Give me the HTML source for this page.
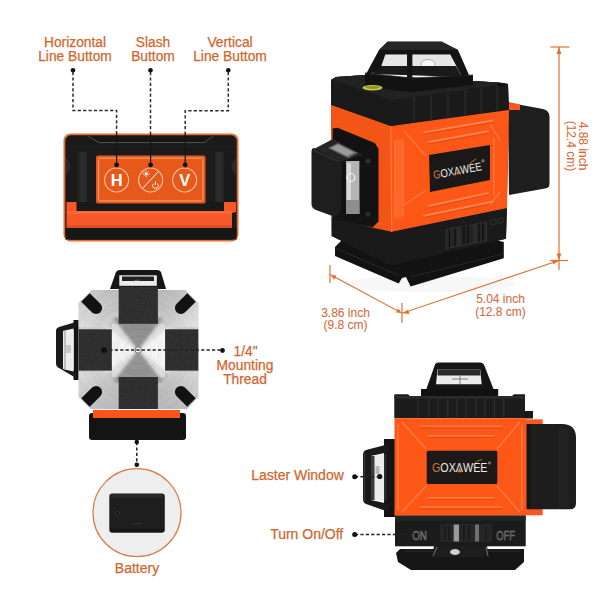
<!DOCTYPE html>
<html><head><meta charset="utf-8">
<style>
html,body{margin:0;padding:0;background:#fff;}
body{width:600px;height:600px;overflow:hidden;position:relative;}
svg{position:absolute;left:0;top:0;}
.lbl{font-family:"Liberation Sans",sans-serif;fill:#d0672f;stroke:#d0672f;stroke-width:0.25px;font-size:13.8px;}
.dim{font-family:"Liberation Sans",sans-serif;fill:#d26e3e;stroke:#d26e3e;stroke-width:0.1px;font-size:12px;}
</style></head>
<body>
<svg width="600" height="600" viewBox="0 0 600 600">
<defs>
  <linearGradient id="blk" x1="0" y1="0" x2="0" y2="1">
    <stop offset="0" stop-color="#2a2a2a"/><stop offset="1" stop-color="#111"/>
  </linearGradient>
  <linearGradient id="metal" x1="0" y1="0" x2="1" y2="1">
    <stop offset="0" stop-color="#a9a9a9"/><stop offset="0.5" stop-color="#e4e4e4"/><stop offset="1" stop-color="#9a9a9a"/>
  </linearGradient>
  <filter id="soft" x="-20%" y="-20%" width="140%" height="140%"><feGaussianBlur stdDeviation="1.8"/></filter>
  <linearGradient id="mTR" x1="0" y1="0" x2="1" y2="1"><stop offset="0" stop-color="#b6b6b6"/><stop offset="0.5" stop-color="#c8c8c8"/><stop offset="1" stop-color="#e6e6e6"/></linearGradient>
  <linearGradient id="mTL" x1="1" y1="0" x2="0" y2="1"><stop offset="0" stop-color="#bdbdbd"/><stop offset="0.5" stop-color="#cacaca"/><stop offset="1" stop-color="#dedede"/></linearGradient>
  <linearGradient id="mBL" x1="0" y1="0" x2="1" y2="1"><stop offset="0" stop-color="#dcdcdc"/><stop offset="0.5" stop-color="#c4c4c4"/><stop offset="1" stop-color="#b8b8b8"/></linearGradient>
  <linearGradient id="mBR" x1="1" y1="0" x2="0" y2="1"><stop offset="0" stop-color="#d8d8d8"/><stop offset="0.5" stop-color="#c2c2c2"/><stop offset="1" stop-color="#b4b4b4"/></linearGradient>
  <clipPath id="plateClip"><path d="M92 290 L185 290 L198.3 303 L198.3 397 L187 409 L91 409 L78.7 397 L78.7 302.7 Z"/></clipPath>
  <filter id="noise" x="0" y="0" width="100%" height="100%"><feTurbulence type="fractalNoise" baseFrequency="0.9" numOctaves="2" seed="4"/><feColorMatrix values="0 0 0 0 0.25  0 0 0 0 0.25  0 0 0 0 0.25  0 0 0 0.22 0"/><feComposite in2="SourceGraphic" operator="in"/></filter>
  <radialGradient id="circ" cx="0.5" cy="0.5" r="0.5">
    <stop offset="0" stop-color="#f4f4f4"/><stop offset="1" stop-color="#ececec"/>
  </radialGradient>
</defs>

<!-- ===== Top-left: button panel ===== -->
<g id="tl">
  <text class="lbl" x="75" y="47" text-anchor="middle">Horizontal</text>
  <text class="lbl" x="75" y="61" text-anchor="middle">Line Buttom</text>
  <text class="lbl" x="153" y="47" text-anchor="middle">Slash</text>
  <text class="lbl" x="153" y="61" text-anchor="middle">Buttom</text>
  <text class="lbl" x="230" y="47" text-anchor="middle">Vertical</text>
  <text class="lbl" x="230" y="61" text-anchor="middle">Line Buttom</text>

  <rect x="63.5" y="133.5" width="175" height="108" rx="7" fill="#e66a34"/>
  <rect x="65.3" y="135.3" width="171.4" height="104.4" rx="5.5" fill="#1a1a1a"/>
  <!-- bevel top -->
  <path d="M87 136 L99 142.6 L204 142.6 L214 136 Z" fill="#161616"/>
  <path d="M88.5 136.3 L99 142.6 L204 142.6 L213 136.3" stroke="#5a5a5a" stroke-width="0.9" fill="none"/>
  <path d="M66 147 L236 147" stroke="#222" stroke-width="1"/>
  <!-- side notches -->
  <path d="M66 158 Q75 166 66 175 Z" fill="#2a2a2a"/>
  <path d="M236 158 Q227 166 236 175 Z" fill="#2a2a2a"/>
  <!-- inner frame -->
  <rect x="77.6" y="152" width="146.8" height="59" fill="#232323"/>
  <rect x="80" y="152" width="6" height="57" fill="#2b2b2b"/>
  <rect x="216" y="152" width="6" height="57" fill="#2b2b2b"/>
  <rect x="87" y="152" width="128" height="57" fill="#1c1c1c"/>
  <!-- orange lower lip -->
  <path d="M66.5 202 L236 202 L236 212 L232 213 L232 228 L66.5 228 Z" fill="#f6582a"/>
  <rect x="67" y="211" width="165" height="3" fill="#ff6a3c" opacity="0.8"/>
  <rect x="67" y="225" width="165" height="3" fill="#d44a22" opacity="0.7"/>
  <rect x="65.5" y="228" width="171" height="11.5" fill="#171717"/>
  <!-- black frame bottom over lip -->
  <path d="M76.5 202 L224 202 L224 211 L76.5 211 Z" fill="#191919"/>
  <!-- orange button plate -->
  <rect x="96" y="155.5" width="109.5" height="48" rx="2" fill="#e6591b"/>
  <rect x="98.6" y="158.1" width="104.3" height="42.8" rx="1.5" fill="none" stroke="#f0a57a" stroke-width="1"/>
  <circle cx="116.6" cy="180" r="12" fill="none" stroke="#f3c6a0" stroke-width="1.1"/>
  <circle cx="150.6" cy="180" r="12" fill="none" stroke="#f3c6a0" stroke-width="1.1"/>
  <circle cx="184.6" cy="180" r="12" fill="none" stroke="#f3c6a0" stroke-width="1.1"/>
  <text x="116.8" y="186.2" text-anchor="middle" font-family="Liberation Sans" font-weight="bold" font-size="16.5" fill="#fff">H</text>
  <text x="184.8" y="186.2" text-anchor="middle" font-family="Liberation Sans" font-weight="bold" font-size="16.5" fill="#fff">V</text>
  <path d="M143 188 L158 172" stroke="#fff" stroke-width="1"/>
  <g stroke="#fff" stroke-width="0.8">
    <circle cx="146.2" cy="173.8" r="1.6" fill="#fff" stroke="none"/>
    <path d="M146.2 170.3 V171.6 M146.2 176 V177.3 M142.7 173.8 H144 M148.4 173.8 H149.7 M143.8 171.4 L144.6 172.2 M147.8 175.4 L148.6 176.2 M148.6 171.4 L147.8 172.2 M144.6 175.4 L143.8 176.2"/>
  </g>
  <path d="M153.6 183.6 A2.8 2.8 0 1 0 157.4 183.6" stroke="#fff" stroke-width="0.9" fill="none"/>
  <path d="M155.5 181.6 V185" stroke="#fff" stroke-width="0.9"/>
  <g stroke="#151515" stroke-width="1.2">
    <path d="M116.6 134 V165 M150.6 134 V165 M185.2 134 V165"/>
  </g>
  <!-- dashed leaders -->
  <g stroke="#2a2a2a" stroke-width="1.5" fill="none" stroke-dasharray="3.2 2.2">
    <path d="M73 72 L73 110.5 L116.6 110.5 L116.6 134"/>
    <path d="M150.5 72 L150.5 134"/>
    <path d="M228.3 72 L228.3 110.8 L185.2 110.8 L185.2 134"/>
  </g>
  <circle cx="73" cy="70.3" r="2.3" fill="#111"/>
  <circle cx="150.5" cy="70.3" r="2.3" fill="#111"/>
  <circle cx="228.3" cy="70.3" r="2.3" fill="#111"/>
  <circle cx="116.6" cy="165" r="2.4" fill="#111"/>
  <circle cx="150.6" cy="165" r="2.4" fill="#111"/>
  <circle cx="185.2" cy="165" r="2.4" fill="#111"/>
</g>

<!-- ===== Top-right: laser perspective ===== -->
<g id="tr">
  <!-- shadow under base -->
  <ellipse cx="430" cy="284" rx="85" ry="8" fill="#f7f7f7"/>
  <!-- base plate -->
  <path d="M343 239 L335 247 L335 256 L398.7 283.5 L402 278 L406 277 L410.6 286.5 L503.8 258.3 L503.8 242 L460 232 Z" fill="#121212"/>
  <path d="M335 248 L398.7 275.5 M410.6 277 L503 254" stroke="#262626" stroke-width="1.2" fill="none"/>
  <!-- lower black body -->
  <path d="M331.7 212 L391.7 231.7 L391.7 265.5 L331.7 236 Z" fill="#1f1f1f"/>
  <path d="M391.7 231.7 L507 208 L506 238.8 L391.7 265.5 Z" fill="#1a1a1a"/>
  <!-- battery -->
  <path d="M508 102.5 L543 109 Q549.5 110.5 549.5 117 L549.5 184 Q549.5 188 545 188.5 L509 195 Z" fill="#1e1e1e"/>
  <path d="M509 102 L520 104.5 L520 110 L509 110 Z" fill="#f8581f"/>
  <!-- silhouette underlay -->
  <path d="M331 80 L336 77 L365 75 L473 81 L498 82.5 L508 84 L509 110 L506 238.8 L391.7 265.5 L331.7 236 Z" fill="#1a1a1a"/>
  <!-- orange body -->
  <path d="M331 104.7 L391 126 L391.7 231.7 L374 228 L331.7 217 Z" fill="#f25516"/>
  <path d="M391 126 L509 110 L507 208 L391.7 231.7 Z" fill="#fc5716"/>
  <!-- front face ridges -->
  <g stroke="#ff8a58" stroke-width="1.8" fill="none" opacity="0.9">
    <path d="M423.5 132.4 L493.5 120.4"/>
    <path d="M428.3 142 L488.7 131.2"/>
    <path d="M428.3 206 L488.7 192.8"/>
    <path d="M423.5 215.8 L493.5 201.3"/>
  </g>
  <g stroke="#d94a18" stroke-width="1" fill="none" opacity="0.8">
    <path d="M423.5 134.4 L493.5 122.4"/>
    <path d="M428.3 144 L488.7 133.2"/>
    <path d="M428.3 208 L488.7 194.8"/>
    <path d="M423.5 217.8 L493.5 203.3"/>
  </g>
  <g stroke="#ff7d48" stroke-width="1.3" fill="none" opacity="0.9">
    <path d="M395 141 L395 216 M403 141 L403 216"/>
    <path d="M404 131 L426 156 M404 205 L426 190"/>
    <path d="M494 138 L494 196 M490 124 L500 140 M490 205 L500 192"/>
  </g>
  <path d="M394 140 L403 139 L403 217 L394 219 Z" fill="#ff6a2e" opacity="0.8"/>
  <path d="M391 126 L391.7 231.7" stroke="#ff7a45" stroke-width="1.2"/>
  <!-- top black body -->
  <path d="M331 80 L336 77 L365 75 L473 81 L498 82.5 L508 84 L508.7 108 L391 126 L331 104.7 Z" fill="#1a1a1a"/>
  <path d="M331 80 L336 77 L365 75 L473 81 L498 82.5 L508 84 L392 100 Z" fill="#222"/>
  <ellipse cx="501" cy="84.5" rx="4" ry="1.8" fill="#111"/>
  <g stroke="#2e2e2e" stroke-width="1.2">
    <path d="M414 97 V123 M431 95 V120.5 M448 92.5 V118 M465.3 90 V115.5 M481.3 88 V113 M497.3 86 V110.5"/>
  </g>
  <!-- switch on front lower -->
  <path d="M445 229 L486.7 221 L486.7 240 L445 248 Z" fill="#141414"/>
  <path d="M446 229.5 L459 227 L459 246 L446 248.5 Z" fill="#262626" stroke="#3a3a3a" stroke-width="0.8"/>
  <path d="M460 227 L474 224.3 L474 243.3 L460 246 Z" fill="#222" stroke="#3a3a3a" stroke-width="0.8"/>
  <path d="M475 224 L486.5 221.8 L486.5 240.8 L475 243 Z" fill="#262626" stroke="#3a3a3a" stroke-width="0.8"/>
  <path d="M449.5 229 V247 M455 228 V246 M464 226 V244.5 M468 225.3 V243.8 M479 223.3 V241.8 M483 222.5 V241" stroke="#0c0c0c" stroke-width="1.1"/>
  <g fill="none" stroke="#3a3a3a" stroke-width="0.7"><path d="M491 220 L496 219 L496 224 L491 225 Z M498 218.5 L503 217.5 L503 222.5 L498 223.5 Z"/></g>
  <!-- handle base tray -->
  <path d="M365 73 L412 78 L473 75 L473 85 L412 92 L365 87 Z" fill="#121212"/>
  <path d="M365 73 L412 78 L473 75" stroke="#333" stroke-width="0.8" fill="none"/>
  <!-- handle glass -->
  <path d="M385 54.5 L451 54.5 L456 68 L381 68 Z" fill="#e6e6e6"/>
  <ellipse cx="428" cy="64" rx="7" ry="4.5" fill="#f8f8f8" stroke="#9a9a9a" stroke-width="0.8"/>
  <path d="M421 67 Q428 71 435 67" stroke="#888" stroke-width="1" fill="none"/>
  <path d="M381 66 L456 66 L462 77 L372 74 Z" fill="#1a1a1a"/>
  <!-- handle frame -->
  <path d="M387.5 41.5 L441.7 41.5 L458 50 L469 75 L462 77 L450.3 54.5 L412.4 54.5 L412.4 78 L407 78 L407 54.5 L385.3 54.5 L380 70 L365 76 L379 50 Z" fill="#141414"/>
  <path d="M387.5 42 L441.7 42 L458 50 L379 50 Z" fill="#262626"/>
  <!-- bubble level -->
  <ellipse cx="372.5" cy="87.7" rx="10" ry="2.8" fill="#c8d04a"/>
  <ellipse cx="372.5" cy="87.4" rx="7.5" ry="1.7" fill="#8f9628"/>
  <!-- logo plate -->
  <path d="M429 155 L490 145 L490 180 L430 192 Z" fill="#1b1918"/>
  <g transform="translate(434 179) rotate(-10.5)">
    <text x="0" y="0" font-family="Liberation Sans" font-size="11.5" fill="#ececec" textLength="49" lengthAdjust="spacingAndGlyphs"><tspan fill="#d47a36">G</tspan>OXΛWEE</text>
    <path d="M23 -0.3 L25 -4.3 L27 -0.3 Z" fill="#e07a30"/>
    <path d="M36.5 -6 Q39.5 -11 45 -12" stroke="#c87838" stroke-width="0.9" fill="none"/>
    <circle cx="51.5" cy="-9" r="1.1" fill="none" stroke="#ddd" stroke-width="0.6"/>
  </g>
  <!-- window block -->
  <path d="M332.6 128.6 L337.4 127.7 L374.7 143 L378.5 148.7 L378.5 221.5 L372.8 227.3 L332.6 219 Z" fill="#121212"/>
  <path d="M312 150 L333 139 L363 155 L340 162 Z" fill="#252525"/>
  <path d="M328 148 L338 143 L358 153 L348 158 Z" fill="#6a6a6a"/>
  <path d="M331 148 L338 144.5 L354 152.5 L347 156 Z" fill="#9a9a9a"/>
  <path d="M314 148 L339 161 Q342 163 342 167 L341 210 Q340 216 334.5 216.7 L316 210 Q311.5 208 311.5 204 L311.5 152 Q311.5 148 314 148 Z" fill="#1e1e1e"/>
  <path d="M313 150 L339 162" stroke="#3a3a3a" stroke-width="1"/>
  <rect x="346" y="161" width="13.4" height="53" fill="#b4b4b4"/>
  <rect x="347" y="163" width="4" height="49" fill="#d8d8d8"/>
  <circle cx="350.8" cy="177.5" r="4" fill="none" stroke="#eee" stroke-width="1.2"/>
  <rect x="346" y="200" width="13.4" height="14" fill="#8e8e8e"/>
  <circle cx="368" cy="161" r="2.6" fill="#2c2c2c"/>
  <circle cx="368" cy="214" r="2.6" fill="#2c2c2c"/>
</g>

<!-- ===== dimension lines ===== -->
<g stroke="#e0702e" stroke-width="1.2" fill="none">
  <path d="M559 47 L559 270"/>
  <path d="M550.5 47 L569.5 47"/>
  <path d="M550 260.5 L568 260.5"/>
  <path d="M330 265 L330 283"/>
  <path d="M330 274.5 L402 313.2 L559 260.5"/>
  <path d="M402 303 L402 323"/>
</g>
<g fill="#e0702e">
  <path d="M559 47.5 L556.6 54 L561.4 54 Z"/>
  <path d="M559 260 L556.6 253.5 L561.4 253.5 Z"/>
  <path d="M331 275 L336.5 275.5 L334.2 279.7 Z"/>
  <path d="M401.5 313 L396 312.6 L398.3 308.4 Z"/>
  <path d="M402.8 313 L408 309.7 L409.5 314.2 Z"/>
  <path d="M558.5 260.7 L553.5 264.2 L552 259.7 Z"/>
</g>
<g transform="translate(582.5 146) rotate(90)"><text class="dim" x="0" y="4" text-anchor="middle">4.88 inch</text></g>
<g transform="translate(571 146) rotate(90)"><text class="dim" x="0" y="4" text-anchor="middle">(12.4 cm)</text></g>
<text class="dim" x="345.5" y="316.7" text-anchor="middle">3.86 inch</text>
<text class="dim" x="345.5" y="328.7" text-anchor="middle">(9.8 cm)</text>
<text class="dim" x="500.5" y="303" text-anchor="middle">5.04 inch</text>
<text class="dim" x="500.5" y="315.6" text-anchor="middle">(12.8 cm)</text>

<!-- ===== Bottom-left: top view ===== -->
<g id="bl">
  <!-- handle -->
  <path d="M110 289 L116 272 Q117 270 120 270 L157 270 Q160 270 161 272 L166 289 Z" fill="#161616"/>
  <rect x="119.3" y="275.3" width="37.5" height="10.5" fill="#ececec"/>
  <rect x="122" y="276.5" width="32" height="4.5" fill="#222"/>
  <path d="M134 281 Q137 279 140 281" stroke="#777" stroke-width="0.8" fill="none"/>
  <!-- left window block -->
  <path d="M73.5 320 L78.7 320 L78.7 380 L73.5 380 Z" fill="#141414"/>
  <path d="M59 327 L76 322 L76 328 L63 331 L63 369 L76 372 L76 378 L59 368 Q56 367 56 363 L56 331 Q56 328 59 327 Z" fill="#1a1a1a"/>
  <path d="M63 331 L73.7 330 L73.7 370 L63 369 Z" fill="#ececec"/>
  <rect x="64" y="331" width="2" height="38" fill="#bdbdbd"/>
  <rect x="66" y="345" width="5" height="8" fill="#c8c8c8"/>
  <!-- battery -->
  <rect x="89" y="413" width="97" height="27" rx="3" fill="#141414"/>
  <rect x="93" y="410" width="87" height="8" fill="#fb5418"/>
  <!-- plate -->
  <path d="M92 290 L185 290 L198.3 303 L198.3 397 L187 409 L91 409 L78.7 397 L78.7 302.7 Z" fill="#cdcdcd"/>
  <!-- corner shading -->
  <path d="M92 290 L118.7 290 L118.7 327 L78.7 327 L78.7 302.7 Z" fill="url(#mTL)"/>
  <path d="M158 290 L185 290 L198.3 303 L198.3 327 L158 327 Z" fill="url(#mTR)"/>
  <path d="M78.7 372 L118.7 372 L118.7 409 L91 409 L78.7 397 Z" fill="url(#mBL)"/>
  <path d="M158 372 L198.3 372 L198.3 397 L187 409 L158 409 Z" fill="url(#mBR)"/>
  <!-- center X pattern -->
  <rect x="111.8" y="324" width="53.2" height="53" fill="#dcdcdc"/>
  <g filter="url(#soft)">
    <path d="M113 318 L163 318 L138.2 350 Z" fill="#8e8e8e"/>
    <path d="M113 382 L163 382 L138.2 350 Z" fill="#929292"/>
    <path d="M106 326 L106 374 L136 350 Z" fill="#f2f2f2"/>
    <path d="M170 326 L170 374 L140 350 Z" fill="#f4f4f4"/>
  </g>
  <g clip-path="url(#plateClip)"><circle cx="138.2" cy="350" r="4.0" stroke="#6a6a6a" stroke-opacity="0.05" stroke-width="0.76" fill="none"/><circle cx="138.2" cy="350" r="6.5" stroke="#ffffff" stroke-opacity="0.08" stroke-width="0.51" fill="none"/><circle cx="138.2" cy="350" r="9.5" stroke="#ffffff" stroke-opacity="0.05" stroke-width="1.20" fill="none"/><circle cx="138.2" cy="350" r="11.7" stroke="#ffffff" stroke-opacity="0.10" stroke-width="0.95" fill="none"/><circle cx="138.2" cy="350" r="13.5" stroke="#6a6a6a" stroke-opacity="0.08" stroke-width="0.87" fill="none"/><circle cx="138.2" cy="350" r="16.3" stroke="#ffffff" stroke-opacity="0.08" stroke-width="1.03" fill="none"/><circle cx="138.2" cy="350" r="18.8" stroke="#ffffff" stroke-opacity="0.06" stroke-width="1.11" fill="none"/><circle cx="138.2" cy="350" r="21.1" stroke="#6a6a6a" stroke-opacity="0.09" stroke-width="1.00" fill="none"/><circle cx="138.2" cy="350" r="24.1" stroke="#6a6a6a" stroke-opacity="0.07" stroke-width="0.81" fill="none"/><circle cx="138.2" cy="350" r="27.2" stroke="#ffffff" stroke-opacity="0.10" stroke-width="0.60" fill="none"/><circle cx="138.2" cy="350" r="29.1" stroke="#ffffff" stroke-opacity="0.11" stroke-width="0.94" fill="none"/><circle cx="138.2" cy="350" r="31.1" stroke="#ffffff" stroke-opacity="0.07" stroke-width="0.75" fill="none"/><circle cx="138.2" cy="350" r="33.6" stroke="#6a6a6a" stroke-opacity="0.08" stroke-width="0.98" fill="none"/><circle cx="138.2" cy="350" r="36.7" stroke="#6a6a6a" stroke-opacity="0.10" stroke-width="0.97" fill="none"/><circle cx="138.2" cy="350" r="38.5" stroke="#6a6a6a" stroke-opacity="0.10" stroke-width="1.13" fill="none"/><circle cx="138.2" cy="350" r="40.9" stroke="#ffffff" stroke-opacity="0.09" stroke-width="1.08" fill="none"/><circle cx="138.2" cy="350" r="43.4" stroke="#ffffff" stroke-opacity="0.05" stroke-width="1.10" fill="none"/><circle cx="138.2" cy="350" r="46.6" stroke="#6a6a6a" stroke-opacity="0.04" stroke-width="0.79" fill="none"/><circle cx="138.2" cy="350" r="48.3" stroke="#6a6a6a" stroke-opacity="0.06" stroke-width="1.11" fill="none"/><circle cx="138.2" cy="350" r="49.9" stroke="#ffffff" stroke-opacity="0.08" stroke-width="1.00" fill="none"/><circle cx="138.2" cy="350" r="52.0" stroke="#6a6a6a" stroke-opacity="0.10" stroke-width="0.85" fill="none"/><circle cx="138.2" cy="350" r="55.2" stroke="#ffffff" stroke-opacity="0.06" stroke-width="0.92" fill="none"/><circle cx="138.2" cy="350" r="56.7" stroke="#ffffff" stroke-opacity="0.05" stroke-width="0.93" fill="none"/><circle cx="138.2" cy="350" r="58.5" stroke="#6a6a6a" stroke-opacity="0.04" stroke-width="0.72" fill="none"/><circle cx="138.2" cy="350" r="61.6" stroke="#ffffff" stroke-opacity="0.10" stroke-width="0.82" fill="none"/><circle cx="138.2" cy="350" r="64.0" stroke="#6a6a6a" stroke-opacity="0.08" stroke-width="0.89" fill="none"/><circle cx="138.2" cy="350" r="66.6" stroke="#6a6a6a" stroke-opacity="0.10" stroke-width="0.80" fill="none"/><circle cx="138.2" cy="350" r="69.3" stroke="#ffffff" stroke-opacity="0.05" stroke-width="1.18" fill="none"/><circle cx="138.2" cy="350" r="71.7" stroke="#ffffff" stroke-opacity="0.08" stroke-width="0.79" fill="none"/><circle cx="138.2" cy="350" r="74.2" stroke="#6a6a6a" stroke-opacity="0.04" stroke-width="0.94" fill="none"/><circle cx="138.2" cy="350" r="75.8" stroke="#ffffff" stroke-opacity="0.08" stroke-width="0.98" fill="none"/><circle cx="138.2" cy="350" r="77.9" stroke="#6a6a6a" stroke-opacity="0.08" stroke-width="0.52" fill="none"/><circle cx="138.2" cy="350" r="79.5" stroke="#6a6a6a" stroke-opacity="0.08" stroke-width="0.68" fill="none"/><circle cx="138.2" cy="350" r="81.7" stroke="#ffffff" stroke-opacity="0.08" stroke-width="0.75" fill="none"/><circle cx="138.2" cy="350" r="83.8" stroke="#6a6a6a" stroke-opacity="0.06" stroke-width="0.71" fill="none"/></g>
  <!-- arms -->
  <rect x="118.7" y="286.7" width="39.2" height="37.1" fill="#242424"/>
  <rect x="118.7" y="377" width="39.2" height="32" fill="#242424"/>
  <rect x="78.7" y="329.3" width="33.1" height="41.3" fill="#242424"/>
  <rect x="165.1" y="329.3" width="33.2" height="41.3" fill="#242424"/>
  <g filter="url(#noise)">
    <rect x="118.7" y="286.7" width="39.2" height="37.1" fill="#000"/>
    <rect x="118.7" y="377" width="39.2" height="32" fill="#000"/>
    <rect x="78.7" y="329.3" width="33.1" height="41.3" fill="#000"/>
    <rect x="165.1" y="329.3" width="33.2" height="41.3" fill="#000"/>
  </g>
  <!-- corner slots -->
  <g fill="#121212">
    <path d="M0 -6 L15 -6 A6 6 0 0 1 15 6 L0 6 Z" transform="translate(85.5 297.5) rotate(45)"/>
    <path d="M0 -6 L15 -6 A6 6 0 0 1 15 6 L0 6 Z" transform="translate(191.5 297.5) rotate(135)"/>
    <path d="M0 -6 L15 -6 A6 6 0 0 1 15 6 L0 6 Z" transform="translate(85.5 402.5) rotate(-45)"/>
    <path d="M0 -6 L15 -6 A6 6 0 0 1 15 6 L0 6 Z" transform="translate(191.5 402.5) rotate(-135)"/>
  </g>
  <circle cx="138.2" cy="350" r="3.2" fill="#f4f4f4" stroke="#666" stroke-width="0.9"/>
  <g stroke="#222" stroke-width="1.5" stroke-dasharray="3.2 2.2" fill="none">
    <path d="M104 350 L222 350"/>
    <path d="M136.8 442 L136.8 465"/>
  </g>
  <circle cx="104" cy="350" r="3" fill="#111"/>
  <circle cx="222.5" cy="350.5" r="2.4" fill="#111"/>
  <circle cx="136.8" cy="442" r="2.3" fill="#111"/>
  <circle cx="136.8" cy="464.7" r="2.3" fill="#111"/>
  <text class="lbl" x="245.5" y="355.5" text-anchor="middle">1/4"</text>
  <text class="lbl" x="245" y="369.7" text-anchor="middle">Mounting</text>
  <text class="lbl" x="245" y="383.7" text-anchor="middle">Thread</text>
  <!-- battery circle -->
  <circle cx="137" cy="512.7" r="44" fill="#eeeeee" stroke="#d6824f" stroke-width="1.3"/>
  <rect x="109.3" y="493.5" width="55.5" height="39.2" rx="3" fill="#1e1e1e"/>
  <rect x="110.5" y="494.5" width="53" height="3" rx="1.5" fill="#2e2e2e"/>
  <rect x="110.5" y="529" width="53" height="2.5" rx="1.2" fill="#161616"/>
  <circle cx="117.5" cy="513.5" r="2" fill="#141414" stroke="#3c3c3c" stroke-width="0.8"/>
  <path d="M133 523.5 H142" stroke="#333" stroke-width="1"/>
  <text class="lbl" x="137" y="572.7" text-anchor="middle" style="font-size:14px">Battery</text>
</g>

<!-- ===== Bottom-right: front view ===== -->
<g id="br">
  <text class="lbl" x="297.5" y="480" text-anchor="middle" style="font-size:14px">Laster Window</text>
  <text class="lbl" x="306.7" y="539" text-anchor="middle" style="font-size:14px">Turn On/Off</text>
  <!-- base lower plate -->
  <path d="M400 549 L524 549 L524 562 L515 570 L411 570 L398 562 L396 553 Z" fill="#161616"/>
  <path d="M405 551 L520 551" stroke="#2a2a2a" stroke-width="1"/>
  <!-- lens area -->
  <path d="M434 546 L487 546 L489 557 L432 557 Z" fill="#1e1e1e"/>
  <ellipse cx="455" cy="552" rx="5" ry="3" fill="#cfcfcf"/>
  <path d="M437 547 L433 556 M486 547 L488 556" stroke="#888" stroke-width="0.8"/>
  <!-- handle -->
  <path d="M434.5 366 Q435 362.5 438.5 362.5 L480 362.5 Q483.5 362.5 484.5 366 L493.7 389.5 L426.2 389.5 Z" fill="#141414"/>
  <path d="M437.5 369.2 L480.2 369.2 L481.7 384.2 L436 384.2 Z" fill="#ececec"/>
  <path d="M438 369.2 L480 369.2 L480.5 375.5 L437.5 375.5 Z" fill="#2a2a2a"/>
  <path d="M460 376 L460 384 M452 379 L468 379" stroke="#777" stroke-width="0.9"/>
  <rect x="421" y="389" width="77.2" height="7.5" fill="#111"/>
  <!-- top black band -->
  <path d="M394.3 397 L394.3 394.3 L408 394.3 L410 396 L512 396 L514 394.3 L525 394.3 L525 418.3 L394.3 418.3 Z" fill="#1c1c1c"/>
  <rect x="394.3" y="396" width="130.7" height="2.5" fill="#2b2b2b"/>
  <g stroke="#2e2e2e" stroke-width="1.3">
    <path d="M418 398 V417 M429 398 V417 M438 398 V417 M447.7 398 V417 M457 398 V417 M466 398 V417 M475.7 398 V417 M485 398 V417 M494.3 398 V417 M503.7 398 V417"/>
  </g>
  <rect x="525" y="411" width="8" height="7.5" fill="#181818"/>
  <!-- left window frame -->
  <path d="M384 439 L395 439 L395 517 L384 517 Z" fill="#141414"/>
  <path d="M366 450 L389 444 L389 452 L371 456 L371 500 L389 504 L389 512 L366 504 Q363 503 363 499 L363 455 Q363 451 366 450 Z" fill="#1a1a1a"/>
  <path d="M364.5 453 L364.5 501" stroke="#3a3a3a" stroke-width="1.2"/>
  <path d="M371 456 L386 454 L386 501 L371 500 Z" fill="#ececec"/>
  <rect x="371" y="456" width="3.5" height="44" fill="#3a3a3a"/>
  <rect x="375.5" y="466" width="4" height="8" fill="#b8b8b8"/>
  <rect x="384" y="454" width="2.5" height="47" fill="#2a2a2a"/>
  <circle cx="379.7" cy="476.5" r="2.6" fill="#111"/>
  <!-- orange side strip & battery -->
  <rect x="526" y="419.3" width="16.7" height="96" fill="#fa5820"/>
  <path d="M526.7 424 L562 424 Q576 424 576 438 L576 503 Q576 509.3 570 509.3 L526.7 509.3 Z" fill="#1d1d1d"/>
  <rect x="558.7" y="428" width="10" height="80" fill="#212121"/>
  <rect x="526.7" y="424" width="4" height="85" fill="#161616"/>
  <!-- orange body -->
  <rect x="394.5" y="418.3" width="131.5" height="97.4" fill="#fc5716"/>
  <g stroke="#ff8048" stroke-width="1.5" fill="none" opacity="0.9">
    <path d="M419.7 426.3 L502.3 426.3"/>
    <path d="M427.7 435.7 L494.3 435.7"/>
    <path d="M419.7 507 L502.3 507"/>
    <path d="M427.7 497.7 L494.3 497.7"/>
    <path d="M402 422 L426 449 M519.7 422 L497 449 M402 512 L426 486 M519.7 512 L497 486"/>
    <path d="M398 425 V510 M522 425 V510"/>
  </g>
  <g stroke="#d8461a" stroke-width="1" fill="none" opacity="0.7">
    <path d="M419.7 428 L502.3 428 M427.7 437.5 L494.3 437.5 M419.7 509 L502.3 509 M427.7 499.5 L494.3 499.5"/>
  </g>
  <!-- logo plate -->
  <rect x="426.7" y="450.7" width="70.6" height="33.3" rx="1.5" fill="#1c1918"/>
  <g id="logoBR">
  <text x="432" y="472.4" font-family="Liberation Sans" font-size="12" fill="#ececec" textLength="55.5" lengthAdjust="spacingAndGlyphs"><tspan fill="#d47a36">G</tspan>OXΛWEE</text>
  <path d="M457.3 472.2 L459.5 467.8 L461.7 472.2 Z" fill="#e07a30"/>
  <path d="M472.5 466 Q476 460.5 482 459.5" stroke="#c87838" stroke-width="0.9" fill="none"/>
  <circle cx="489.5" cy="463" r="1.1" fill="none" stroke="#ddd" stroke-width="0.6"/>
  </g>
  <!-- bottom black band -->
  <rect x="395" y="515.7" width="130.7" height="30.6" fill="#1b1b1b"/>
  <rect x="395" y="515.7" width="130.7" height="5" fill="#242424"/>
  <text x="419.6" y="539.7" text-anchor="middle" font-family="Liberation Sans" font-size="12.5" fill="#3a3a3a" stroke="#8a8a8a" stroke-width="0.5" textLength="14.7" lengthAdjust="spacingAndGlyphs">ON</text>
  <text x="505.7" y="539.7" text-anchor="middle" font-family="Liberation Sans" font-size="12.5" fill="#3a3a3a" stroke="#8a8a8a" stroke-width="0.5" textLength="18.7" lengthAdjust="spacingAndGlyphs">OFF</text>
  <rect x="440.3" y="523.7" width="52" height="18.6" fill="#262626"/>
  <rect x="453.7" y="524.5" width="5.3" height="17" fill="#9a9a9a"/>
  <rect x="475" y="524.5" width="4" height="17" fill="#707070"/>
  <path d="M445 526 V540 M449 526 V540 M464 526 V540 M469 526 V540 M486 526 V540" stroke="#111" stroke-width="1"/>
  <g stroke="#222" stroke-width="1.4" stroke-dasharray="3.2 2.2" fill="none">
    <path d="M355 476.7 L380 476.7"/>
    <path d="M355 534.5 L412 534.5"/>
  </g>
  <circle cx="354.7" cy="476.7" r="2.5" fill="#111"/>
  <circle cx="354.7" cy="534.5" r="2.5" fill="#111"/>
</g>
</svg>
</body></html>
